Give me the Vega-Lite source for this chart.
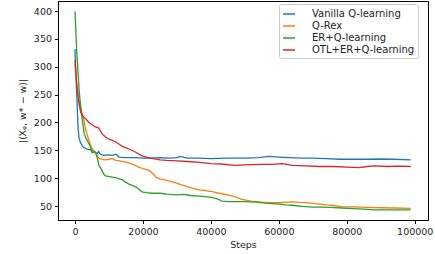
{
  "$schema": "https://vega.github.io/schema/vega-lite/v6.json",
  "width": 370,
  "height": 219,
  "padding": {"left": 58, "top": 1, "right": 7, "bottom": 34},
  "autosize": {"type": "none"},
  "background": "white",
  "config": {
    "font": "DejaVu Sans",
    "view": {"stroke": "#000", "strokeWidth": 1},
    "axis": {"domainColor": "#000", "tickColor": "#000", "tickSize": 3.5, "labelColor": "#222", "labelFontSize": 9.5, "titleFontSize": 9.5, "titleFontWeight": "normal", "titleColor": "#222", "grid": false, "labelFont": "DejaVu Sans", "titleFont": "DejaVu Sans"}
  },
  "data": {"values": [
    {"series":"Vanilla Q-learning","step":0,"value":332},
    {"series":"Vanilla Q-learning","step":300,"value":280},
    {"series":"Vanilla Q-learning","step":600,"value":239},
    {"series":"Vanilla Q-learning","step":900,"value":190},
    {"series":"Vanilla Q-learning","step":1200,"value":172},
    {"series":"Vanilla Q-learning","step":1700,"value":163},
    {"series":"Vanilla Q-learning","step":2400,"value":156},
    {"series":"Vanilla Q-learning","step":3500,"value":152},
    {"series":"Vanilla Q-learning","step":5000,"value":150},
    {"series":"Vanilla Q-learning","step":6000,"value":147},
    {"series":"Vanilla Q-learning","step":6500,"value":144},
    {"series":"Vanilla Q-learning","step":7000,"value":148},
    {"series":"Vanilla Q-learning","step":7500,"value":143},
    {"series":"Vanilla Q-learning","step":8500,"value":141},
    {"series":"Vanilla Q-learning","step":10000,"value":142},
    {"series":"Vanilla Q-learning","step":11000,"value":141},
    {"series":"Vanilla Q-learning","step":12000,"value":143},
    {"series":"Vanilla Q-learning","step":13000,"value":138},
    {"series":"Vanilla Q-learning","step":15000,"value":137},
    {"series":"Vanilla Q-learning","step":18000,"value":137},
    {"series":"Vanilla Q-learning","step":20000,"value":136},
    {"series":"Vanilla Q-learning","step":22000,"value":136},
    {"series":"Vanilla Q-learning","step":25000,"value":137},
    {"series":"Vanilla Q-learning","step":28000,"value":136},
    {"series":"Vanilla Q-learning","step":30000,"value":137},
    {"series":"Vanilla Q-learning","step":31000,"value":139},
    {"series":"Vanilla Q-learning","step":33000,"value":136},
    {"series":"Vanilla Q-learning","step":36000,"value":136},
    {"series":"Vanilla Q-learning","step":40000,"value":135},
    {"series":"Vanilla Q-learning","step":45000,"value":136},
    {"series":"Vanilla Q-learning","step":50000,"value":136},
    {"series":"Vanilla Q-learning","step":54000,"value":137},
    {"series":"Vanilla Q-learning","step":57000,"value":139},
    {"series":"Vanilla Q-learning","step":60000,"value":138},
    {"series":"Vanilla Q-learning","step":63000,"value":137},
    {"series":"Vanilla Q-learning","step":67000,"value":136},
    {"series":"Vanilla Q-learning","step":70000,"value":136},
    {"series":"Vanilla Q-learning","step":74000,"value":135},
    {"series":"Vanilla Q-learning","step":78000,"value":134},
    {"series":"Vanilla Q-learning","step":82000,"value":134},
    {"series":"Vanilla Q-learning","step":86000,"value":134},
    {"series":"Vanilla Q-learning","step":90000,"value":134.5},
    {"series":"Vanilla Q-learning","step":94000,"value":134},
    {"series":"Vanilla Q-learning","step":98800,"value":133},

    {"series":"Q-Rex","step":0,"value":305},
    {"series":"Q-Rex","step":500,"value":270},
    {"series":"Q-Rex","step":1000,"value":245},
    {"series":"Q-Rex","step":1500,"value":230},
    {"series":"Q-Rex","step":2600,"value":204},
    {"series":"Q-Rex","step":3200,"value":186},
    {"series":"Q-Rex","step":4100,"value":168},
    {"series":"Q-Rex","step":5000,"value":153},
    {"series":"Q-Rex","step":6000,"value":146},
    {"series":"Q-Rex","step":7000,"value":136},
    {"series":"Q-Rex","step":8000,"value":134},
    {"series":"Q-Rex","step":9000,"value":133},
    {"series":"Q-Rex","step":10000,"value":134},
    {"series":"Q-Rex","step":11000,"value":135},
    {"series":"Q-Rex","step":12000,"value":132},
    {"series":"Q-Rex","step":13000,"value":131},
    {"series":"Q-Rex","step":15000,"value":129},
    {"series":"Q-Rex","step":16000,"value":127},
    {"series":"Q-Rex","step":17000,"value":125},
    {"series":"Q-Rex","step":18800,"value":120},
    {"series":"Q-Rex","step":20000,"value":117},
    {"series":"Q-Rex","step":21800,"value":114},
    {"series":"Q-Rex","step":23000,"value":108},
    {"series":"Q-Rex","step":24000,"value":101},
    {"series":"Q-Rex","step":25000,"value":99},
    {"series":"Q-Rex","step":27600,"value":95},
    {"series":"Q-Rex","step":29000,"value":93},
    {"series":"Q-Rex","step":31000,"value":89},
    {"series":"Q-Rex","step":32500,"value":86},
    {"series":"Q-Rex","step":34500,"value":82},
    {"series":"Q-Rex","step":36500,"value":79},
    {"series":"Q-Rex","step":38000,"value":78},
    {"series":"Q-Rex","step":40300,"value":76},
    {"series":"Q-Rex","step":42400,"value":73},
    {"series":"Q-Rex","step":45000,"value":70},
    {"series":"Q-Rex","step":47000,"value":67},
    {"series":"Q-Rex","step":49000,"value":62},
    {"series":"Q-Rex","step":52000,"value":59},
    {"series":"Q-Rex","step":55000,"value":57},
    {"series":"Q-Rex","step":57000,"value":56},
    {"series":"Q-Rex","step":60000,"value":56},
    {"series":"Q-Rex","step":63800,"value":57.5},
    {"series":"Q-Rex","step":66000,"value":56.5},
    {"series":"Q-Rex","step":68000,"value":56},
    {"series":"Q-Rex","step":70000,"value":55},
    {"series":"Q-Rex","step":72000,"value":53.5},
    {"series":"Q-Rex","step":74000,"value":52},
    {"series":"Q-Rex","step":76000,"value":51},
    {"series":"Q-Rex","step":78500,"value":49},
    {"series":"Q-Rex","step":82000,"value":48.5},
    {"series":"Q-Rex","step":86000,"value":47.5},
    {"series":"Q-Rex","step":90000,"value":47},
    {"series":"Q-Rex","step":94000,"value":46.5},
    {"series":"Q-Rex","step":98800,"value":46},

    {"series":"ER+Q-learning","step":0,"value":399},
    {"series":"ER+Q-learning","step":500,"value":330},
    {"series":"ER+Q-learning","step":800,"value":300},
    {"series":"ER+Q-learning","step":1200,"value":260},
    {"series":"ER+Q-learning","step":1500,"value":239},
    {"series":"ER+Q-learning","step":2100,"value":207},
    {"series":"ER+Q-learning","step":2700,"value":180},
    {"series":"ER+Q-learning","step":3200,"value":172},
    {"series":"ER+Q-learning","step":4600,"value":156},
    {"series":"ER+Q-learning","step":5000,"value":146},
    {"series":"ER+Q-learning","step":5600,"value":147},
    {"series":"ER+Q-learning","step":6100,"value":145},
    {"series":"ER+Q-learning","step":6500,"value":138},
    {"series":"ER+Q-learning","step":7100,"value":122},
    {"series":"ER+Q-learning","step":7600,"value":118},
    {"series":"ER+Q-learning","step":8500,"value":107},
    {"series":"ER+Q-learning","step":9000,"value":104},
    {"series":"ER+Q-learning","step":10000,"value":103},
    {"series":"ER+Q-learning","step":11000,"value":102},
    {"series":"ER+Q-learning","step":12000,"value":101},
    {"series":"ER+Q-learning","step":13000,"value":99},
    {"series":"ER+Q-learning","step":14000,"value":97},
    {"series":"ER+Q-learning","step":14900,"value":93},
    {"series":"ER+Q-learning","step":16000,"value":89},
    {"series":"ER+Q-learning","step":16800,"value":87},
    {"series":"ER+Q-learning","step":18000,"value":84},
    {"series":"ER+Q-learning","step":18800,"value":80},
    {"series":"ER+Q-learning","step":19700,"value":75.6},
    {"series":"ER+Q-learning","step":21000,"value":74},
    {"series":"ER+Q-learning","step":22600,"value":73},
    {"series":"ER+Q-learning","step":25000,"value":73},
    {"series":"ER+Q-learning","step":27000,"value":71.5},
    {"series":"ER+Q-learning","step":30000,"value":70},
    {"series":"ER+Q-learning","step":32000,"value":71},
    {"series":"ER+Q-learning","step":34000,"value":69},
    {"series":"ER+Q-learning","step":36500,"value":68},
    {"series":"ER+Q-learning","step":38000,"value":67},
    {"series":"ER+Q-learning","step":40300,"value":65.5},
    {"series":"ER+Q-learning","step":42300,"value":62},
    {"series":"ER+Q-learning","step":43200,"value":59},
    {"series":"ER+Q-learning","step":45300,"value":58},
    {"series":"ER+Q-learning","step":47000,"value":58},
    {"series":"ER+Q-learning","step":50000,"value":58},
    {"series":"ER+Q-learning","step":53000,"value":57},
    {"series":"ER+Q-learning","step":57000,"value":55},
    {"series":"ER+Q-learning","step":60000,"value":53.5},
    {"series":"ER+Q-learning","step":62000,"value":52},
    {"series":"ER+Q-learning","step":64000,"value":51.5},
    {"series":"ER+Q-learning","step":66800,"value":49.5},
    {"series":"ER+Q-learning","step":70000,"value":48},
    {"series":"ER+Q-learning","step":72000,"value":48},
    {"series":"ER+Q-learning","step":75000,"value":47.5},
    {"series":"ER+Q-learning","step":78500,"value":46.5},
    {"series":"ER+Q-learning","step":82000,"value":45.5},
    {"series":"ER+Q-learning","step":85000,"value":44.5},
    {"series":"ER+Q-learning","step":88500,"value":43},
    {"series":"ER+Q-learning","step":92000,"value":43},
    {"series":"ER+Q-learning","step":95000,"value":43},
    {"series":"ER+Q-learning","step":98800,"value":43},

    {"series":"OTL+ER+Q-learning","step":0,"value":312},
    {"series":"OTL+ER+Q-learning","step":500,"value":270},
    {"series":"OTL+ER+Q-learning","step":1000,"value":240},
    {"series":"OTL+ER+Q-learning","step":1700,"value":218},
    {"series":"OTL+ER+Q-learning","step":2500,"value":210},
    {"series":"OTL+ER+Q-learning","step":3100,"value":207},
    {"series":"OTL+ER+Q-learning","step":4100,"value":200},
    {"series":"OTL+ER+Q-learning","step":5000,"value":196},
    {"series":"OTL+ER+Q-learning","step":6000,"value":192},
    {"series":"OTL+ER+Q-learning","step":7000,"value":190},
    {"series":"OTL+ER+Q-learning","step":7900,"value":180},
    {"series":"OTL+ER+Q-learning","step":9000,"value":174},
    {"series":"OTL+ER+Q-learning","step":10000,"value":170},
    {"series":"OTL+ER+Q-learning","step":11000,"value":168},
    {"series":"OTL+ER+Q-learning","step":12000,"value":165},
    {"series":"OTL+ER+Q-learning","step":13000,"value":161},
    {"series":"OTL+ER+Q-learning","step":14000,"value":157},
    {"series":"OTL+ER+Q-learning","step":16000,"value":152},
    {"series":"OTL+ER+Q-learning","step":17500,"value":148},
    {"series":"OTL+ER+Q-learning","step":19700,"value":140},
    {"series":"OTL+ER+Q-learning","step":21000,"value":138},
    {"series":"OTL+ER+Q-learning","step":22600,"value":135.6},
    {"series":"OTL+ER+Q-learning","step":25000,"value":133},
    {"series":"OTL+ER+Q-learning","step":27000,"value":132},
    {"series":"OTL+ER+Q-learning","step":30000,"value":131},
    {"series":"OTL+ER+Q-learning","step":33000,"value":130},
    {"series":"OTL+ER+Q-learning","step":36000,"value":129},
    {"series":"OTL+ER+Q-learning","step":40000,"value":126},
    {"series":"OTL+ER+Q-learning","step":43000,"value":125.5},
    {"series":"OTL+ER+Q-learning","step":47000,"value":123},
    {"series":"OTL+ER+Q-learning","step":50000,"value":124},
    {"series":"OTL+ER+Q-learning","step":55000,"value":125},
    {"series":"OTL+ER+Q-learning","step":58000,"value":125},
    {"series":"OTL+ER+Q-learning","step":61000,"value":126},
    {"series":"OTL+ER+Q-learning","step":64000,"value":123},
    {"series":"OTL+ER+Q-learning","step":68000,"value":122},
    {"series":"OTL+ER+Q-learning","step":72000,"value":121},
    {"series":"OTL+ER+Q-learning","step":76000,"value":121},
    {"series":"OTL+ER+Q-learning","step":80000,"value":120},
    {"series":"OTL+ER+Q-learning","step":83500,"value":119},
    {"series":"OTL+ER+Q-learning","step":86000,"value":121},
    {"series":"OTL+ER+Q-learning","step":88000,"value":122},
    {"series":"OTL+ER+Q-learning","step":92000,"value":121},
    {"series":"OTL+ER+Q-learning","step":95000,"value":121.5},
    {"series":"OTL+ER+Q-learning","step":98800,"value":121}
  ]},
  "mark": {"type": "line", "strokeWidth": 1.3, "clip": true},
  "encoding": {
    "x": {"field": "step", "type": "quantitative", "title": "Steps",
      "scale": {"domain": [-5000, 103900], "nice": false, "zero": false},
      "axis": {"values": [0, 20000, 40000, 60000, 80000, 100000], "format": "d", "labelPadding": 3, "titlePadding": 3}},
    "y": {"field": "value", "type": "quantitative", "title": "|⟨Xᵩ, w* − w⟩|",
      "scale": {"domain": [25, 418], "nice": false, "zero": false},
      "axis": {"values": [50, 100, 150, 200, 250, 300, 350, 400], "labelPadding": 3, "titlePadding": 6}},
    "color": {"field": "series", "type": "nominal",
      "scale": {"domain": ["Vanilla Q-learning", "Q-Rex", "ER+Q-learning", "OTL+ER+Q-learning"], "range": ["#1f77b4", "#ff7f0e", "#2ca02c", "#d62728"]},
      "legend": {"title": null, "orient": "none", "legendX": 221, "legendY": 3, "symbolType": "stroke", "symbolSize": 144, "symbolStrokeWidth": 1.5, "labelFontSize": 10, "labelColor": "#222", "labelFont": "DejaVu Sans", "rowPadding": 0, "labelOffset": 16, "padding": 3, "strokeColor": "#ccc", "fillColor": "white", "cornerRadius": 2}}
  }
}
